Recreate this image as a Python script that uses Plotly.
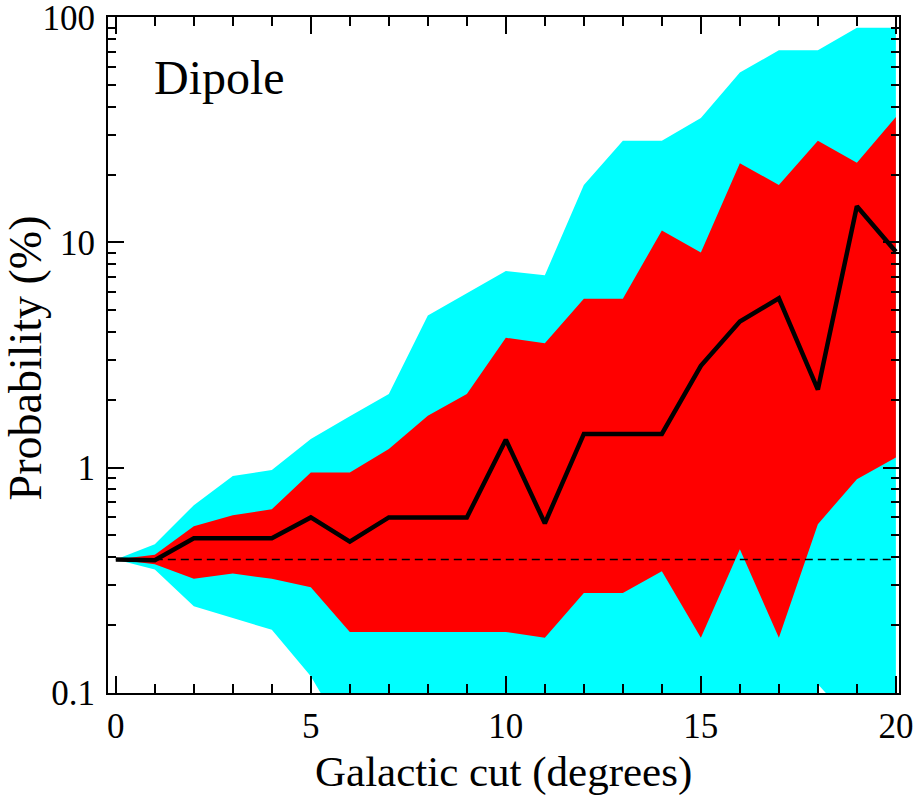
import plotly.graph_objects as go

# Galactic cut in degrees
cut = list(range(0, 21))

# Median probability (%)
median = [0.39, 0.387, 0.485, 0.485, 0.485, 0.60, 0.468, 0.60, 0.60, 0.60,
          1.33, 0.565, 1.41, 1.41, 1.41, 2.83, 4.45, 5.65, 2.22, 14.5, 9.1]

# Inner band (red)
red_hi = [0.39, 0.41, 0.548, 0.613, 0.653, 0.95, 0.95, 1.21, 1.70, 2.12,
          3.77, 3.57, 5.63, 5.63, 11.3, 9.03, 22.5, 18.0, 28.3, 22.6, 36.1]
red_lo = [0.39, 0.372, 0.32, 0.338, 0.32, 0.294, 0.186, 0.186, 0.186, 0.186,
          0.186, 0.175, 0.277, 0.277, 0.346, 0.175, 0.433, 0.175, 0.56, 0.888, 1.108]

# Outer band (cyan)
cyan_hi = [0.39, 0.456, 0.68, 0.918, 0.974, 1.34, 1.69, 2.12, 4.74, 5.96,
           7.47, 7.15, 18.0, 28.3, 28.3, 35.7, 57.0, 71.4, 71.4, 89.9, 90.0]
cyan_lo = [0.39, 0.352, 0.242, 0.215, 0.19, 0.118, 0.06, 0.05, 0.05, 0.05,
           0.05, 0.05, 0.05, 0.05, 0.05, 0.05, 0.05, 0.003, 0.109, 0.07, 0.05]

# Reference level (full-sky value)
reference = 0.39

y_ticks = [0.1, 1, 10, 100]
y_ticktext = ["0.1", "1", "10", "100"]
y_minor = [m * d for d in (0.1, 1, 10) for m in range(2, 10)]

FONT = "Liberation Serif"


def band(lo, hi, color):
    return go.Scatter(
        x=cut + cut[::-1],
        y=hi + lo[::-1],
        fill="toself",
        fillcolor=color,
        line=dict(width=0, color=color),
        mode="lines",
        hoverinfo="skip",
        showlegend=False,
    )


fig = go.Figure()
fig.add_trace(band(cyan_lo, cyan_hi, "#00FFFF"))
fig.add_trace(band(red_lo, red_hi, "#FF0000"))
fig.add_trace(go.Scatter(
    x=[cut[0], cut[-1]], y=[reference, reference], mode="lines",
    line=dict(color="black", width=1.6, dash="8px,5px"), showlegend=False,
))
fig.add_trace(go.Scatter(
    x=cut, y=median, mode="lines",
    line=dict(color="black", width=4.5), showlegend=False,
))

axis_common = dict(
    showline=True, linecolor="black", linewidth=2, mirror="allticks",
    ticks="inside", tickcolor="black", tickwidth=2,
    showgrid=False, zeroline=False, automargin=False,
    ticklabeloverflow="allow",
    tickfont=dict(family=FONT, size=35, color="black"),
)

fig.update_xaxes(
    range=[-0.2, 20.08], tickmode="array", tickvals=[0, 5, 10, 15, 20],
    ticklen=17, ticklabelstandoff=1,
    minor=dict(ticks="inside", ticklen=9, tickwidth=2, tickcolor="black",
               tickmode="array", tickvals=list(range(0, 21)), showgrid=False),
    **axis_common,
)
fig.update_yaxes(
    type="log", range=[-1.002, 2.002], tickmode="array", tickvals=y_ticks,
    ticktext=y_ticktext, ticklen=16, ticklabelstandoff=4,
    minor=dict(ticks="inside", ticklen=8, tickwidth=2, tickcolor="black",
               tickmode="array", tickvals=y_minor, showgrid=False),
    **axis_common,
)

fig.add_annotation(
    text="Dipole", xref="paper", yref="paper", x=0.055, y=0.91,
    xanchor="left", yanchor="middle", showarrow=False,
    font=dict(family=FONT, size=48, color="black"),
)
fig.add_annotation(
    text="Galactic cut (degrees)", xref="paper", yref="paper", x=0.5, y=-0.117,
    xanchor="center", yanchor="middle", showarrow=False,
    font=dict(family=FONT, size=43, color="black"),
)
fig.add_annotation(
    text="Probability (%)", xref="paper", yref="paper", x=-0.104, y=0.496,
    xanchor="center", yanchor="middle", showarrow=False, textangle=-90,
    font=dict(family=FONT, size=46, color="black"),
)

fig.update_layout(
    width=916, height=796,
    margin=dict(l=108, r=17, t=17, b=103),
    plot_bgcolor="white", paper_bgcolor="white",
    showlegend=False,
)

fig.write_html("out.html")
